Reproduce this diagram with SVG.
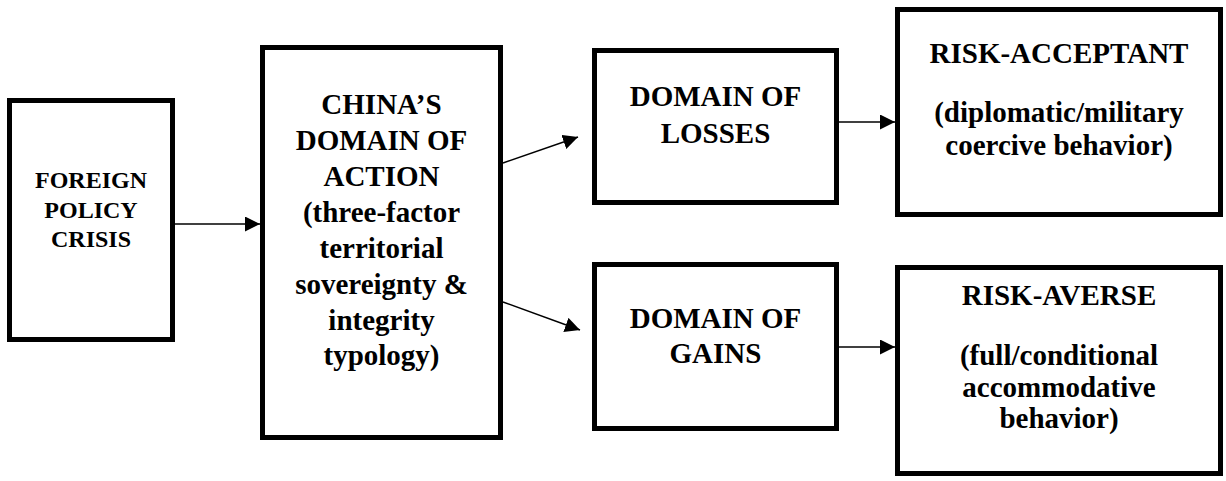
<svg xmlns="http://www.w3.org/2000/svg" width="1226" height="481" viewBox="0 0 1226 481">
<style>
.box{fill:#fff;stroke:#000;stroke-width:5}
.t{font-family:"Liberation Serif","Times New Roman",serif;font-weight:bold;font-size:29px;text-anchor:middle;fill:#000}
.s{font-size:24px}
.c{stroke:#000;stroke-width:1.5;fill:none}
</style>
<defs>
<marker id="ah" markerUnits="userSpaceOnUse" markerWidth="15" markerHeight="15" refX="15" refY="7.5" orient="auto">
<path d="M0,0 L15,7.5 L0,15 z" fill="#000"/>
</marker>
</defs>
<rect width="1226" height="481" fill="#fff"/>
<g id="connectors">
<line class="c" x1="175" y1="224" x2="260" y2="224" marker-end="url(#ah)"/>
<line class="c" x1="503" y1="163" x2="578" y2="137" marker-end="url(#ah)"/>
<line class="c" x1="503" y1="302" x2="580" y2="330" marker-end="url(#ah)"/>
<line class="c" x1="839" y1="122" x2="895" y2="122" marker-end="url(#ah)"/>
<line class="c" x1="839" y1="347" x2="895" y2="347" marker-end="url(#ah)"/>
</g>
<g id="foreign-policy-crisis">
<rect class="box" x="9.5" y="100.5" width="163" height="239"/>
<text class="t s" x="91" y="188">FOREIGN</text>
<text class="t s" x="91" y="218">POLICY</text>
<text class="t s" x="91" y="247">CRISIS</text>
</g>
<g id="china-domain">
<rect class="box" x="262.5" y="47.5" width="238" height="390"/>
<text class="t" x="381.5" y="114">CHINA&#8217;S</text>
<text class="t" x="381.5" y="150">DOMAIN OF</text>
<text class="t" x="381.5" y="186">ACTION</text>
<text class="t" x="381.5" y="222">(three-factor</text>
<text class="t" x="381.5" y="258">territorial</text>
<text class="t" x="381.5" y="294">sovereignty &amp;</text>
<text class="t" x="381.5" y="330">integrity</text>
<text class="t" x="381.5" y="365">typology)</text>
</g>
<g id="domain-losses">
<rect class="box" x="594.5" y="50.5" width="242" height="152"/>
<text class="t" x="715.5" y="106">DOMAIN OF</text>
<text class="t" x="715.5" y="143">LOSSES</text>
</g>
<g id="domain-gains">
<rect class="box" x="594.5" y="264.5" width="242" height="164"/>
<text class="t" x="715.5" y="328">DOMAIN OF</text>
<text class="t" x="715.5" y="363">GAINS</text>
</g>
<g id="risk-acceptant">
<rect class="box" x="897.5" y="9.5" width="323" height="205"/>
<text class="t" x="1059" y="63">RISK-ACCEPTANT</text>
<text class="t" x="1059" y="122">(diplomatic/military</text>
<text class="t" x="1059" y="155">coercive behavior)</text>
</g>
<g id="risk-averse">
<rect class="box" x="897.5" y="267.5" width="323" height="206"/>
<text class="t" x="1059" y="305">RISK-AVERSE</text>
<text class="t" x="1059" y="365">(full/conditional</text>
<text class="t" x="1059" y="397">accommodative</text>
<text class="t" x="1059" y="428">behavior)</text>
</g>
</svg>
